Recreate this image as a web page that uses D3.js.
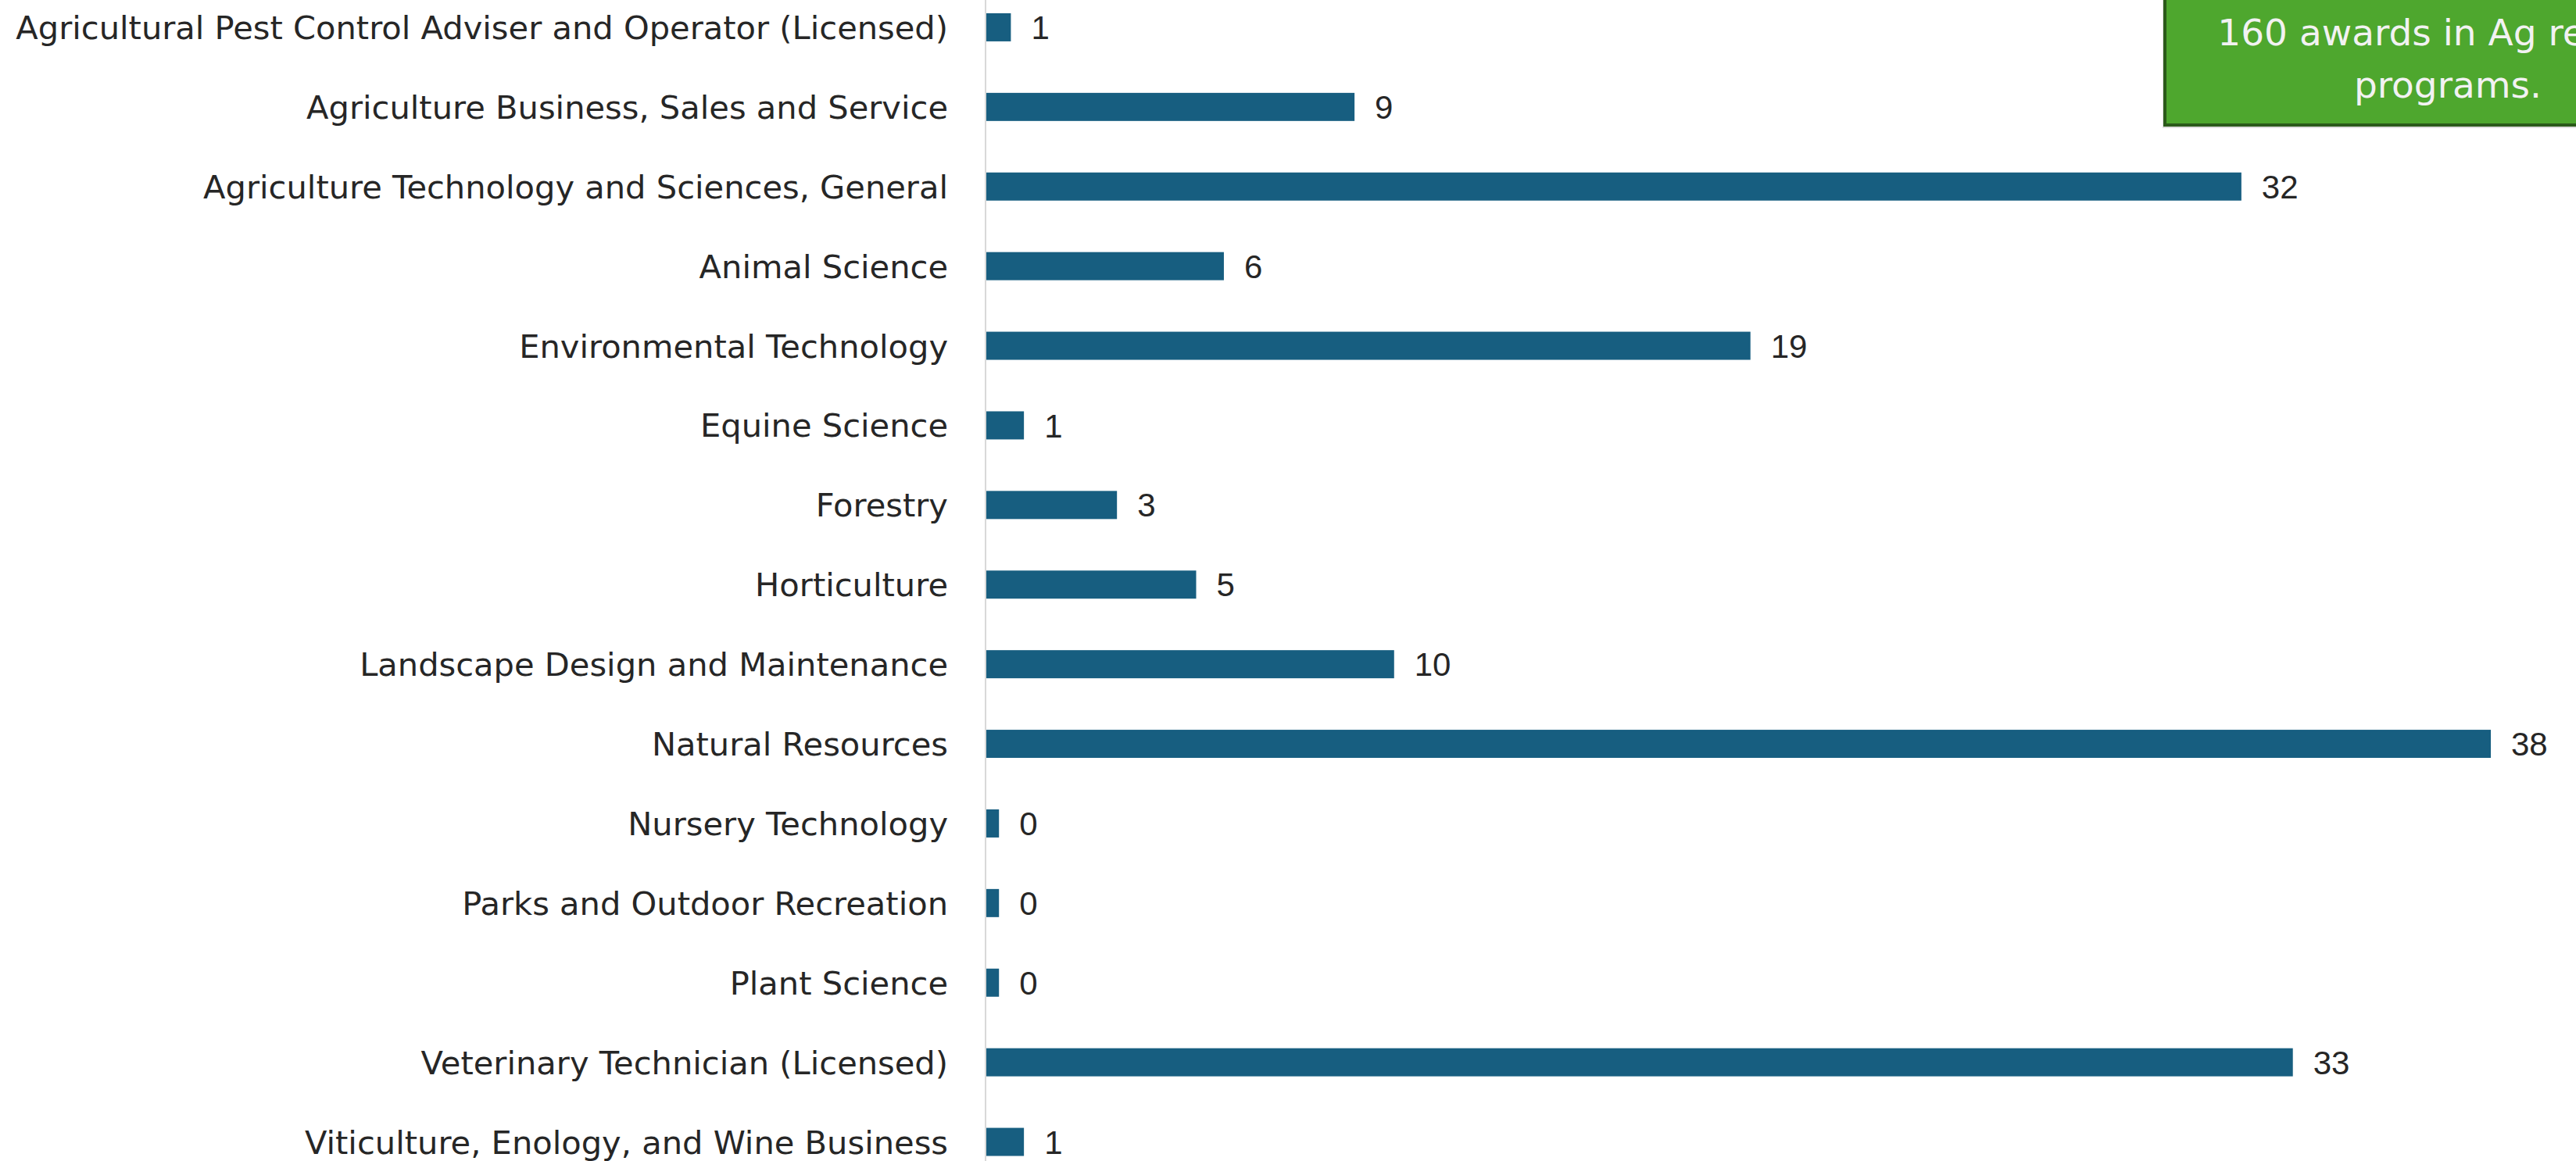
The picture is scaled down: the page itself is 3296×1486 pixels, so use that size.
<!DOCTYPE html>
<html>
<head>
<meta charset="utf-8">
<script src="https://cdn.jsdelivr.net/npm/d3@7"></script>
<style>
  html, body { margin: 0; padding: 0; background: #ffffff; overflow: hidden; }
  svg { display: block; }
</style>
</head>
<body>
<div id="chart"></div>
<script>
// ---- data ----
const categories = [
  "Agricultural Pest Control Adviser and Operator (Licensed)",
  "Agriculture Business, Sales and Service",
  "Agriculture Technology and Sciences, General",
  "Animal Science",
  "Environmental Technology",
  "Equine Science",
  "Forestry",
  "Horticulture",
  "Landscape Design and Maintenance",
  "Natural Resources",
  "Nursery Technology",
  "Parks and Outdoor Recreation",
  "Plant Science",
  "Veterinary Technician (Licensed)",
  "Viticulture, Enology, and Wine Business"
];
// bar lengths
const values = [0.62, 9.3, 31.7, 6.0, 19.3, 0.95, 3.3, 5.3, 10.3, 38.0, 0.32, 0.32, 0.32, 33.0, 0.95];
// data labels as printed
const valueLabels = ["1", "9", "32", "6", "19", "1", "3", "5", "10", "38", "0", "0", "0", "33", "1"];
const calloutLines = ["160 awards in Ag related", "programs."];

// ---- layout ----
const W = 3296, H = 1486;
const labelFont = "'DejaVu Sans', 'Liberation Sans', Arial, sans-serif";
const valueFont = "'Liberation Sans', Arial, sans-serif";

const svg = d3.select("#chart").append("svg")
  .attr("width", W).attr("height", H);

const x = d3.scaleLinear().domain([0, 38]).range([1262, 3187]);
const y = d3.scaleBand().domain(categories).range([-16, 1512.5])
  .paddingInner(0.647).paddingOuter(0.3235);

// vertical axis line
svg.append("line")
  .attr("x1", x(0) - 1).attr("x2", x(0) - 1)
  .attr("y1", 0).attr("y2", H)
  .attr("stroke", "#d9d9d9").attr("stroke-width", 2);

// bars
svg.append("g").selectAll("rect").data(categories).join("rect")
  .attr("x", x(0))
  .attr("y", d => y(d))
  .attr("width", (d, i) => x(values[i]) - x(0))
  .attr("height", y.bandwidth())
  .attr("fill", "#175e80");

// category labels
svg.append("g").selectAll("text").data(categories).join("text")
  .attr("x", 1213)
  .attr("y", d => y(d) + y.bandwidth() / 2)
  .attr("dy", "0.36em")
  .attr("text-anchor", "end")
  .attr("font-family", labelFont)
  .attr("font-size", 41.6)
  .attr("fill", "#262626")
  .text(d => d);

// value labels
svg.append("g").selectAll("text").data(categories).join("text")
  .attr("x", (d, i) => x(values[i]) + 26)
  .attr("y", d => y(d) + y.bandwidth() / 2)
  .attr("dy", "0.36em")
  .attr("text-anchor", "start")
  .attr("font-family", valueFont)
  .attr("font-size", 42)
  .attr("fill", "#262626")
  .text((d, i) => valueLabels[i]);

// callout box (cropped at top-right like the reference)
const box = svg.append("g");
box.append("rect")
  .attr("x", 2767).attr("y", -100)
  .attr("width", 740).attr("height", 264)
  .attr("fill", "#c8c8c8").attr("opacity", 0.6);
box.append("rect")
  .attr("x", 2770).attr("y", -100)
  .attr("width", 740).attr("height", 260)
  .attr("fill", "#4ea72e")
  .attr("stroke", "#2b5a1a").attr("stroke-width", 4);
box.selectAll("text.call").data(calloutLines).join("text")
  .attr("class", "call")
  .attr("x", 3132)
  .attr("y", (d, i) => 58 + i * 67)
  .attr("text-anchor", "middle")
  .attr("font-family", labelFont)
  .attr("font-size", 47)
  .attr("fill", "#f2f2f2")
  .text(d => d);
</script>
</body>
</html>
